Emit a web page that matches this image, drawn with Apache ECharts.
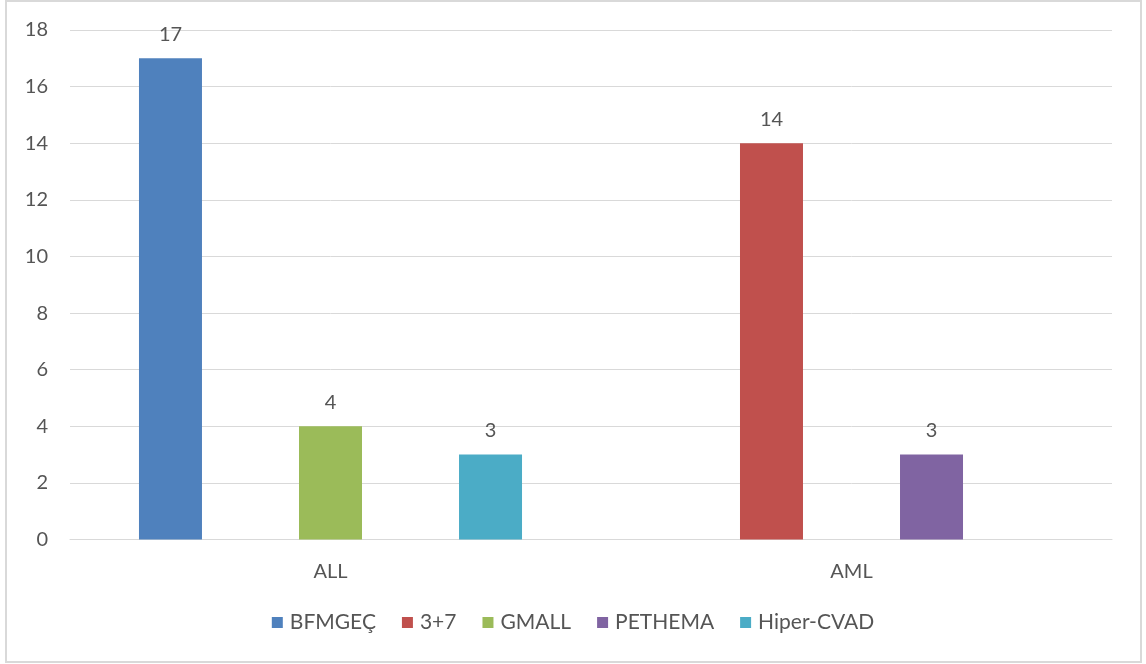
<!DOCTYPE html>
<html>
<head>
<meta charset="utf-8">
<title>ALL / AML</title>
<script src="https://cdn.jsdelivr.net/npm/echarts@6/dist/echarts.min.js"></script>
<style>
  html, body { margin: 0; padding: 0; background: #ffffff; }
  #chart { width: 1146px; height: 664px; }
</style>
</head>
<body>
<div id="chart"></div>
<script>
// Disease groups on the x axis
const categories = ['ALL', 'AML'];

// Patients per treatment protocol (null = protocol not used in that group)
const seriesNames = ['BFMGEÇ', '3+7', 'GMALL', 'PETHEMA', 'Hiper-CVAD'];
const bfmgec    = [17, null];
const threeSeven = [null, 14];
const gmall     = [4, null];
const pethema   = [null, 3];
const hiperCvad = [3, null];

const seriesValues = [bfmgec, threeSeven, gmall, pethema, hiperCvad];
const colors = ['#4F81BD', '#C0504D', '#9BBB59', '#8064A2', '#4BACC6'];

// Value axis ticks
const yMin = 0, yMax = 18, yStep = 2;

const FONT = 'Lato, "Liberation Sans", sans-serif';
const TEXT = '#555555';
const GRID_LINE = '#d9d9d9';

const chart = echarts.init(document.getElementById('chart'), null, { renderer: 'canvas' });

chart.setOption({
  animation: false,
  backgroundColor: '#ffffff',
  color: colors,
  textStyle: { fontFamily: FONT },
  graphic: [{
    type: 'rect',
    shape: { x: 6, y: 1, width: 1135, height: 661 },
    style: { fill: 'none', stroke: '#d9d9d9', lineWidth: 2 },
    silent: true
  }],
  grid: { left: 70, right: 34, top: 30, bottom: 124.5, containLabel: false },
  legend: {
    data: seriesNames,
    bottom: 26,
    left: 'center',
    itemWidth: 11,
    itemHeight: 11,
    itemGap: 26,
    icon: 'rect',
    textStyle: { color: TEXT, fontSize: 21, fontFamily: FONT, padding: [0, 0, 0, 2] }
  },
  xAxis: {
    type: 'category',
    data: categories,
    axisLine: { show: true, lineStyle: { color: GRID_LINE, width: 1 } },
    axisTick: { show: false },
    axisLabel: { color: TEXT, fontSize: 20, fontFamily: FONT, margin: 22 }
  },
  yAxis: {
    type: 'value',
    min: yMin,
    max: yMax,
    interval: yStep,
    axisLine: { show: false },
    axisTick: { show: false },
    splitLine: { lineStyle: { color: GRID_LINE, width: 1 } },
    axisLabel: { color: TEXT, fontSize: 20, fontFamily: FONT, margin: 22 }
  },
  series: seriesNames.map((name, i) => ({
    name,
    type: 'bar',
    data: seriesValues[i],
    barWidth: 63,
    barGap: '27%',
    itemStyle: { color: colors[i] },
    label: {
      show: true,
      position: 'top',
      distance: 14,
      color: TEXT,
      fontSize: 20,
      fontFamily: FONT
    }
  }))
});
</script>
</body>
</html>
